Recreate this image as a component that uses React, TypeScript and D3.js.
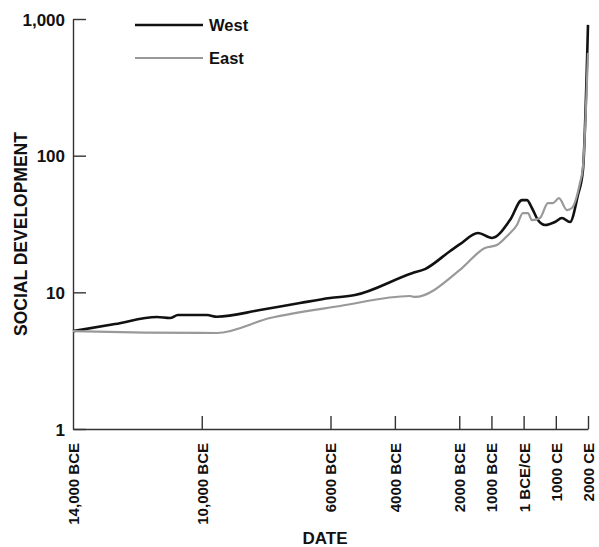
import { useEffect, useRef } from "react";
import * as d3 from "d3";

// years (negative = BCE) and index values
const westYears = [-14000, -12695, -11390, -10987, -10738, -9837, -9527, -8191, -6948, -6016, -5240, -3469, -3065, -2289, -1978, -1419, -984, -424, -52, 103, 258, 445, 663, 973, 1190, 1439, 1687, 1843, 2000];
const westValues = [5.2, 5.86, 6.6, 6.49, 6.82, 6.82, 6.63, 7.42, 8.35, 9.08, 9.55, 13.8, 14.8, 20.0, 22.5, 27.2, 25.0, 33.8, 47.3, 47.3, 41.4, 33.8, 31.1, 32.7, 35.0, 32.7, 51.5, 78.5, 906];

const eastYears = [-14000, -11763, -9527, -7880, -5706, -3531, -3376, -1978, -1201, -829, -487, -207, -21, 134, 258, 507, 756, 911, 1097, 1346, 1501, 1750, 1843, 2000];
const eastValues = [5.2, 5.08, 5.04, 6.49, 7.94, 9.4, 9.25, 14.6, 21.1, 22.2, 26.2, 31.1, 38.0, 38.0, 33.8, 35.0, 45.0, 45.0, 48.9, 40.0, 41.4, 63.0, 82.5, 565];

const xTicks = [-14000, -10000, -6000, -4000, -2000, -1000, 0, 1000, 2000];
const xTickLabels = ["14,000 BCE", "10,000 BCE", "6000 BCE", "4000 BCE", "2000 BCE", "1000 BCE", "1 BCE/CE", "1000 CE", "2000 CE"];
const yTicks = [1, 10, 100, 1000];
const yTickLabels = ["1", "10", "100", "1,000"];

const seriesNames = ["West", "East"];
const seriesColors = ["#111111", "#999999"];

const App = () => {
  const svgRef = useRef<SVGSVGElement>(null);

  useEffect(() => {
    const width = 599;
    const height = 547;
    const font = "'Liberation Sans', Arial, Helvetica, sans-serif";

    const svg = d3.select(svgRef.current);
    svg.selectAll("*").remove();
    svg.attr("width", width).attr("height", height);

    const x = d3.scaleLinear().domain([-14000, 2000]).range([73, 588]);
    const y = d3.scaleLog().domain([1, 1000]).range([429, 19]);

    // y axis, ticks pointing inward
    const yAxis = d3.axisRight(y)
      .tickValues(yTicks)
      .tickSize(13)
      .tickSizeOuter(0)
      .tickFormat((d, i) => yTickLabels[i]);
    const yg = svg.append("g").attr("transform", `translate(${x.range()[0]},0)`).call(yAxis);
    yg.selectAll("text")
      .attr("x", -8)
      .attr("dy", "0.36em")
      .attr("text-anchor", "end")
      .style("font-family", font)
      .style("font-weight", "bold")
      .style("font-size", "17px")
      .style("fill", "#111");

    // x axis, ticks pointing up, labels rotated
    const xAxis = d3.axisTop(x)
      .tickValues(xTicks)
      .tickSize(13)
      .tickSizeOuter(0)
      .tickFormat((d, i) => xTickLabels[i]);
    const xg = svg.append("g").attr("transform", `translate(0,${y.range()[0]})`).call(xAxis);
    xg.selectAll(".tick text")
      .attr("transform", "rotate(-90)")
      .attr("x", -14)
      .attr("y", 0)
      .attr("dy", "0.36em")
      .attr("text-anchor", "end")
      .style("font-family", font)
      .style("font-weight", "bold")
      .style("font-size", "15px")
      .style("fill", "#111");
    xg.select(".tick line").remove();

    [yg, xg].forEach(g => {
      g.selectAll("path, line").attr("stroke", "#333").attr("stroke-width", 1.4);
    });

    const line = d3.line<[number, number]>()
      .x(d => x(d[0]))
      .y(d => y(d[1]))
      .curve(d3.curveMonotoneX);

    const series: [number, number][][] = [
      westYears.map((yr, i) => [yr, westValues[i]]),
      eastYears.map((yr, i) => [yr, eastValues[i]]),
    ];

    series.forEach((s, i) => {
      svg.append("path")
        .datum(s)
        .attr("fill", "none")
        .attr("stroke", seriesColors[i])
        .attr("stroke-width", i === 0 ? 2.6 : 2.2)
        .attr("stroke-linejoin", "round")
        .attr("d", line);
    });

    // legend
    seriesNames.forEach((name, i) => {
      const ly = 25 + i * 33;
      svg.append("line")
        .attr("x1", 135).attr("x2", 203)
        .attr("y1", ly).attr("y2", ly)
        .attr("stroke", seriesColors[i])
        .attr("stroke-width", i === 0 ? 2.6 : 2.2);
      svg.append("text")
        .attr("x", 209)
        .attr("y", ly)
        .attr("dy", "0.36em")
        .style("font-family", font)
        .style("font-weight", "bold")
        .style("font-size", "16.5px")
        .style("fill", "#111")
        .text(name);
    });

    // axis titles
    svg.append("text")
      .attr("transform", "translate(27,234) rotate(-90)")
      .attr("text-anchor", "middle")
      .style("font-family", font)
      .style("font-weight", "bold")
      .style("font-size", "17.5px")
      .style("fill", "#111")
      .text("SOCIAL DEVELOPMENT");

    svg.append("text")
      .attr("x", 325)
      .attr("y", 544)
      .attr("text-anchor", "middle")
      .style("font-family", font)
      .style("font-weight", "bold")
      .style("font-size", "17px")
      .style("fill", "#111")
      .text("DATE");
  }, []);

  return (
    <svg ref={svgRef} width={599} height={547} style={{ position: "absolute", left: 0, top: 0 }}></svg>
  );
};

export default App;
